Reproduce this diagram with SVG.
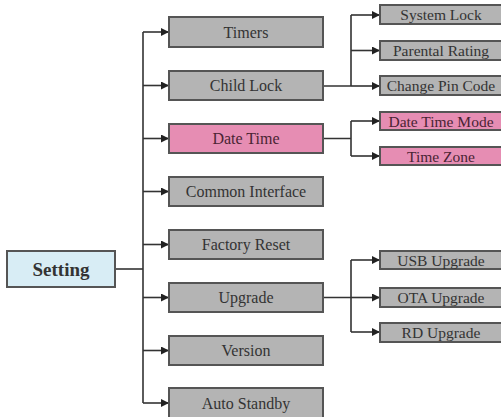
<svg xmlns="http://www.w3.org/2000/svg" width="501" height="417" viewBox="0 0 501 417">
<defs>
<marker id="ah" viewBox="0 0 10 10" refX="10" refY="5" markerWidth="8" markerHeight="8" markerUnits="userSpaceOnUse" orient="auto">
<path d="M0,0 L10,5 L0,10 z" fill="#222"/>
</marker>
<style>
.g{fill:#b4b4b4;stroke:#555;stroke-width:2}
.p{fill:#e68db3;stroke:#555;stroke-width:2}
.b{fill:#d8edf5;stroke:#555;stroke-width:2}
.t{font-family:"Liberation Serif","Times New Roman",serif;font-size:16px;fill:#333;text-anchor:middle;dominant-baseline:central}
.s{font-size:15.5px}
.tp{fill:#4a2433}
.ts{font-size:19px;font-weight:bold;fill:#333}
.c{fill:none;stroke:#333;stroke-width:1.6}
.a{marker-end:url(#ah)}
</style>
</defs>
<rect width="501" height="417" fill="#fff"/>
<g id="connectors">
<path class="c" d="M115,269 H143"/>
<path class="c" d="M143,32 V403"/>
<path class="c a" d="M143,32 H169"/>
<path class="c a" d="M143,85.5 H169"/>
<path class="c a" d="M143,138.5 H169"/>
<path class="c a" d="M143,191.5 H169"/>
<path class="c a" d="M143,244.5 H169"/>
<path class="c a" d="M143,297.5 H169"/>
<path class="c a" d="M143,350.5 H169"/>
<path class="c a" d="M143,403 H169"/>
<path class="c" d="M323,86 H351 M351,15 V86"/>
<path class="c a" d="M351,15 H380"/>
<path class="c a" d="M351,50.5 H380"/>
<path class="c a" d="M351,86 H380"/>
<path class="c" d="M323,138.5 H351 M351,121 V156"/>
<path class="c a" d="M351,121 H380"/>
<path class="c a" d="M351,156 H380"/>
<path class="c" d="M323,297.5 H351 M351,260 V332"/>
<path class="c a" d="M351,260 H380"/>
<path class="c a" d="M351,297.5 H380"/>
<path class="c a" d="M351,332 H380"/>
</g>
<g id="setting"><rect class="b" x="7" y="251" width="108" height="36"/><text class="t ts" x="61" y="269">Setting</text></g>
<g id="timers"><rect class="g" x="169" y="17" width="154" height="30"/><text class="t" x="246" y="32">Timers</text></g>
<g id="childlock"><rect class="g" x="169" y="71" width="154" height="29"/><text class="t" x="246" y="85.5">Child Lock</text></g>
<g id="datetime"><rect class="p" x="169" y="124" width="154" height="29"/><text class="t tp" x="246" y="138.5">Date Time</text></g>
<g id="commoninterface"><rect class="g" x="169" y="177" width="154" height="29"/><text class="t" x="246" y="191.5">Common Interface</text></g>
<g id="factoryreset"><rect class="g" x="169" y="230" width="154" height="29"/><text class="t" x="246" y="244.5">Factory Reset</text></g>
<g id="upgrade"><rect class="g" x="169" y="283" width="154" height="29"/><text class="t" x="246" y="297.5">Upgrade</text></g>
<g id="version"><rect class="g" x="169" y="336" width="154" height="29"/><text class="t" x="246" y="350.5">Version</text></g>
<g id="autostandby"><rect class="g" x="169" y="388" width="154" height="32"/><text class="t" x="246" y="403">Auto Standby</text></g>
<g id="systemlock"><rect class="g" x="380" y="5" width="124" height="19"/><text class="t s" x="441" y="14.5">System Lock</text></g>
<g id="parentalrating"><rect class="g" x="380" y="41" width="124" height="19"/><text class="t s" x="441" y="50.5">Parental Rating</text></g>
<g id="changepincode"><rect class="g" x="380" y="76" width="124" height="19"/><text class="t s" x="441" y="85.5">Change Pin Code</text></g>
<g id="datetimemode"><rect class="p" x="380" y="112" width="124" height="18"/><text class="t s tp" x="441" y="121">Date Time Mode</text></g>
<g id="timezone"><rect class="p" x="380" y="147" width="124" height="18"/><text class="t s tp" x="441" y="156">Time Zone</text></g>
<g id="usbupgrade"><rect class="g" x="380" y="251" width="124" height="18"/><text class="t s" x="441" y="260">USB Upgrade</text></g>
<g id="otaupgrade"><rect class="g" x="380" y="288" width="124" height="19"/><text class="t s" x="441" y="297.5">OTA Upgrade</text></g>
<g id="rdupgrade"><rect class="g" x="380" y="323" width="124" height="19"/><text class="t s" x="441" y="332.5">RD Upgrade</text></g>
</svg>
